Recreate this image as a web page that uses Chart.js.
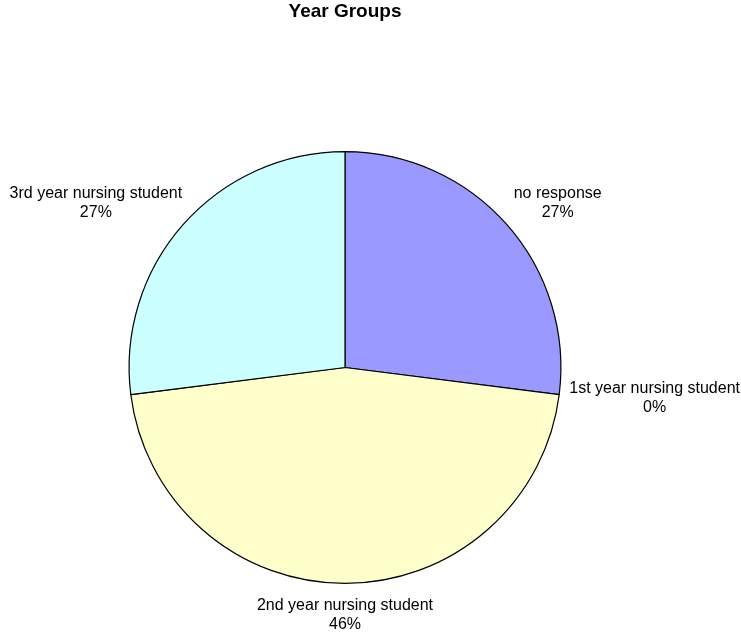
<!DOCTYPE html>
<html>
<head>
<meta charset="utf-8">
<script src="https://cdn.jsdelivr.net/npm/chart.js@4/dist/chart.umd.min.js"></script>
<style>
  html, body { margin: 0; padding: 0; background: #ffffff; }
  #wrap { width: 741px; height: 633px; }
</style>
</head>
<body>
<div id="wrap"><canvas id="c" width="741" height="633"></canvas></div>
<script>
const chartTitle = "Year Groups";
const categories = ["no response", "1st year nursing student", "2nd year nursing student", "3rd year nursing student"];
const values = [27, 0, 46, 27];
const percentLabels = ["27%", "0%", "46%", "27%"];
const sliceColors = ["#9999FF", "#FFFFCC", "#FFFFCC", "#CCFFFF"];

const FONT = '"Liberation Sans", Arial, sans-serif';

const labelPlugin = {
  id: 'outsideLabels',
  afterDraw(chart) {
    const ctx = chart.ctx;
    const area = chart.chartArea;
    // title, centred over the plot area
    ctx.save();
    ctx.fillStyle = '#000';
    ctx.font = 'bold 19px ' + FONT;
    ctx.textAlign = 'center';
    ctx.textBaseline = 'alphabetic';
    ctx.fillText(chartTitle, (area.left + area.right) / 2, 17);
    ctx.restore();

    const meta = chart.getDatasetMeta(0);
    ctx.save();
    ctx.font = '16px ' + FONT;
    ctx.fillStyle = '#000';
    ctx.textAlign = 'center';
    ctx.textBaseline = 'middle';
    const lineGap = 19;
    const gapX = 17, gapY = 13, kx = 1.15;
    meta.data.forEach((arc, i) => {
      const p = arc.getProps(['x', 'y', 'startAngle', 'endAngle', 'outerRadius'], true);
      const mid = (p.startAngle + p.endAngle) / 2;
      const dx = Math.cos(mid), dy = Math.sin(mid);
      const l1 = categories[i], l2 = percentLabels[i];
      const halfW = Math.max(ctx.measureText(l1).width, ctx.measureText(l2).width) / 2;
      const halfH = lineGap;
      let cx = p.x + dx * (p.outerRadius + gapX + halfW * kx);
      const cy = p.y + dy * (p.outerRadius + gapY + halfH);
      cx = Math.min(cx, chart.width - 1 - halfW);
      cx = Math.max(cx, 2 + halfW);
      ctx.fillText(l1, cx, cy - lineGap / 2);
      ctx.fillText(l2, cx, cy + lineGap / 2);
    });
    ctx.restore();
  }
};

new Chart(document.getElementById('c'), {
  type: 'pie',
  data: {
    labels: categories,
    datasets: [{
      data: values,
      backgroundColor: sliceColors,
      borderColor: '#000000',
      borderWidth: 1.2
    }]
  },
  options: {
    responsive: false,
    animation: false,
    devicePixelRatio: 1,
    layout: { padding: { top: 151, left: 128, right: 179, bottom: 49 } },
    plugins: {
      legend: { display: false },
      title: { display: false },
      tooltip: { enabled: false }
    }
  },
  plugins: [labelPlugin]
});
</script>
</body>
</html>
